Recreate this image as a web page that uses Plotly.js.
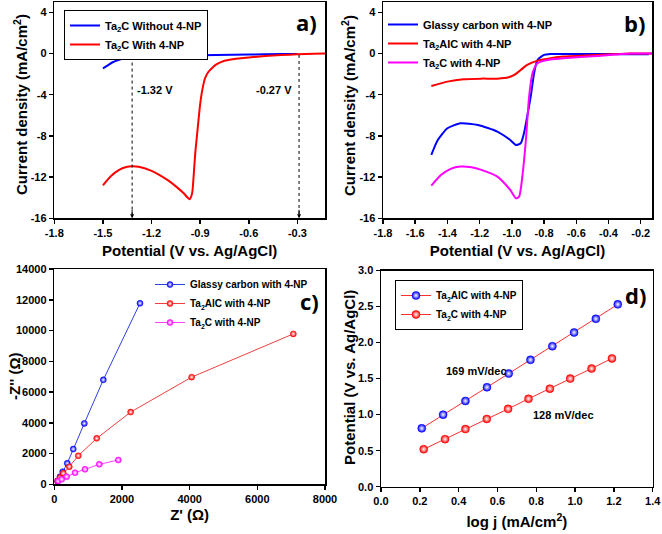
<!DOCTYPE html>
<html><head><meta charset="utf-8">
<script src="https://cdn.plot.ly/plotly-3.0.1.min.js"></script>
<style>html,body{margin:0;padding:0;background:#fff}</style>
</head><body><div id="chart" style="width:662px;height:534px"></div>
<script>
// ---------- Panel a ----------
const aNoNP_x = [-1.5, -1.47, -1.44, -1.4, -1.36, -1.3, -1.2, -1.0, -0.8, -0.6, -0.4, -0.3];
const aNoNP_y = [-1.45, -1.15, -0.85, -0.6, -0.42, -0.33, -0.27, -0.2, -0.14, -0.1, -0.06, -0.05];
const aNP_x = [-1.5, -1.45, -1.4, -1.35, -1.32, -1.28, -1.2, -1.15, -1.1, -1.05, -1.0, -0.98, -0.965, -0.95, -0.94, -0.93, -0.92, -0.91, -0.9, -0.89, -0.88, -0.87, -0.85, -0.82, -0.8, -0.75, -0.7, -0.65, -0.6, -0.5, -0.4, -0.3, -0.2, -0.12];
const aNP_y = [-12.8, -11.9, -11.3, -11.0, -10.95, -11.0, -11.4, -11.8, -12.3, -12.9, -13.6, -13.95, -14.15, -13.6, -11.8, -9.6, -8.0, -6.4, -4.9, -3.8, -3.0, -2.4, -1.8, -1.3, -1.05, -0.7, -0.55, -0.45, -0.38, -0.25, -0.15, -0.08, -0.02, 0];
const aMarkX = [-1.32, -0.29];
const aMarkTop = [-0.3, -0.14];
const aMarkText = ['-1.32 V', '-0.27 V'];

// ---------- Panel b ----------
const bGC_x = [-1.5, -1.46, -1.4, -1.32, -1.21, -1.09, -1.01, -0.975, -0.945, -0.925, -0.905, -0.883, -0.862, -0.841, -0.8, -0.76, -0.6, -0.4, -0.2, -0.15];
const bGC_y = [-9.85, -8.4, -7.26, -6.78, -6.94, -7.58, -8.4, -8.88, -8.72, -7.75, -6.13, -4.19, -1.92, -0.63, -0.14, -0.05, -0.05, -0.05, -0.08, -0.08];
const bAl_x = [-1.5, -1.4, -1.3, -1.19, -1.09, -1.02, -0.985, -0.945, -0.905, -0.84, -0.76, -0.68, -0.47, -0.26, -0.13];
const bAl_y = [-3.15, -2.73, -2.5, -2.44, -2.44, -2.31, -2.08, -1.6, -1.11, -0.69, -0.47, -0.3, -0.14, 0, 0];
const bTa_x = [-1.5, -1.44, -1.38, -1.32, -1.25, -1.19, -1.09, -1.01, -0.975, -0.955, -0.935, -0.913, -0.893, -0.872, -0.841, -0.78, -0.68, -0.47, -0.26, -0.13];
const bTa_y = [-12.83, -11.8, -11.2, -10.98, -11.05, -11.3, -11.95, -13.25, -14.06, -13.9, -11.95, -8.4, -4.19, -1.92, -0.95, -0.63, -0.47, -0.24, 0, 0];

// ---------- Panel c ----------
const cGC_x = [89, 168, 248, 384, 561, 887, 1448, 2532];
const cGC_y = [214, 494, 818, 1364, 2292, 3961, 6794, 11771];
const cAl_x = [89, 168, 266, 443, 709, 1253, 2256, 4059, 7064];
const cAl_y = [214, 429, 714, 1143, 1857, 2987, 4696, 6968, 9781];
const cTa_x = [118, 219, 366, 612, 907, 1330, 1891];
const cTa_y = [214, 325, 494, 753, 974, 1299, 1578];

// ---------- Panel d ----------
const dAl_x = [0.21, 0.32, 0.435, 0.546, 0.658, 0.77, 0.883, 0.995, 1.107, 1.22];
const dAl_y = [0.81, 1.0, 1.19, 1.38, 1.57, 1.76, 1.95, 2.14, 2.33, 2.53];
const dTa_x = [0.22, 0.33, 0.435, 0.545, 0.655, 0.76, 0.87, 0.975, 1.085, 1.19];
const dTa_y = [0.52, 0.66, 0.80, 0.94, 1.08, 1.22, 1.36, 1.50, 1.64, 1.78];

// ---------- tick labels ----------
const abYTicks = [4, 0, -4, -8, -12, -16];
const abYText = ['4', '0', '-4', '-8', '-12', '-16'];
const aXTicks = [-1.8, -1.5, -1.2, -0.9, -0.6, -0.3];
const aXText = ['-1.8', '-1.5', '-1.2', '-0.9', '-0.6', '-0.3'];
const bXTicks = [-1.8, -1.6, -1.4, -1.2, -1.0, -0.8, -0.6, -0.4, -0.2];
const bXText = ['-1.8', '-1.6', '-1.4', '-1.2', '-1.0', '-0.8', '-0.6', '-0.4', '-0.2'];

// ---------- y-axis titles ----------
const yTitles = ['Current density (mA/cm<sup>2</sup>)', 'Current density (mA/cm<sup>2</sup>)', "-Z'' (Ω)", 'Potential (V vs. Ag/AgCl)'];

const W = 662, H = 534;
const FONT = 'Liberation Sans, Arial, sans-serif';
const BLUE = '#0000ff', RED = '#ff0000', MAG = '#ff00ff';

function dx(a, b) { return [a / W, b / W]; }
function dy(top, bottom) { return [1 - bottom / H, 1 - top / H]; }

function axis(extra) {
  return Object.assign({
    showline: true, linecolor: '#000', linewidth: 1.5, mirror: true,
    ticks: 'outside', ticklen: 4, tickwidth: 1.5, tickcolor: '#000',
    showgrid: false, zeroline: false, fixedrange: true,
    tickfont: { family: FONT, size: 11, color: '#000', weight: 'bold' },
    automargin: false
  }, extra);
}
const TFONT = { family: FONT, size: 15, color: '#000', weight: 'bold' };
function ttl(text, standoff) { return { text: text, standoff: standoff, font: TFONT }; }

const lineTr = (x, y, color, name, xa, ya, lg, w) => ({
  x: x, y: y, type: 'scatter', mode: 'lines', name: name,
  line: { color: color, width: w || 2, shape: 'spline', smoothing: 0.6 },
  xaxis: xa, yaxis: ya, legend: lg
});
const ballTr = (x, y, color, lineColor, name, xa, ya, lg, size) => ({
  x: x, y: y, type: 'scatter', mode: 'lines+markers', name: name,
  line: { color: lineColor, width: 1 },
  marker: { size: size, color: color, gradient: { type: 'radial', color: '#ffffff' }, line: { color: color, width: 0.5 } },
  xaxis: xa, yaxis: ya, legend: lg
});

const data = [
  lineTr(aNoNP_x, aNoNP_y, BLUE, 'Ta<sub>2</sub>C Without 4-NP', 'x', 'y', 'legend'),
  lineTr(aNP_x, aNP_y, RED, 'Ta<sub>2</sub>C With 4-NP', 'x', 'y', 'legend'),
  lineTr(bGC_x, bGC_y, BLUE, 'Glassy carbon with 4-NP', 'x2', 'y2', 'legend2'),
  lineTr(bAl_x, bAl_y, RED, 'Ta<sub>2</sub>AlC with 4-NP', 'x2', 'y2', 'legend2'),
  lineTr(bTa_x, bTa_y, MAG, 'Ta<sub>2</sub>C with 4-NP', 'x2', 'y2', 'legend2'),
  ballTr(cGC_x, cGC_y, BLUE, '#3040e0', 'Glassy carbon with 4-NP', 'x3', 'y3', 'legend3', 6),
  ballTr(cAl_x, cAl_y, RED, '#f04040', 'Ta<sub>2</sub>AlC with 4-NP', 'x3', 'y3', 'legend3', 6),
  ballTr(cTa_x, cTa_y, MAG, '#ff40ff', 'Ta<sub>2</sub>C with 4-NP', 'x3', 'y3', 'legend3', 6),
  ballTr(dAl_x, dAl_y, BLUE, '#ff3030', 'Ta<sub>2</sub>AlC with 4-NP', 'x4', 'y4', 'legend4', 8),
  ballTr(dTa_x, dTa_y, RED, '#ff3030', 'Ta<sub>2</sub>C with 4-NP', 'x4', 'y4', 'legend4', 8)
];

const shapes = [], annotations = [];
aMarkX.forEach((xv, i) => {
  shapes.push({ type: 'line', xref: 'x', yref: 'y', x0: xv, x1: xv, y0: aMarkTop[i], y1: -15.6,
    line: { color: '#000', width: 1, dash: 'dot' } });
  annotations.push({ xref: 'x', yref: 'y', x: xv, y: -16, text: '', showarrow: true,
    ax: 0, ay: -10, arrowhead: 2, arrowsize: 0.8, arrowwidth: 1, arrowcolor: '#000' });
});
annotations.push({ xref: 'x', yref: 'y', x: aMarkX[0] + 0.02, y: -3.5, text: aMarkText[0], showarrow: false,
  xanchor: 'left', font: { family: FONT, size: 11, color: '#000', weight: 'bold' } });
annotations.push({ xref: 'x', yref: 'y', x: aMarkX[1] - 0.03, y: -3.5, text: aMarkText[1], showarrow: false,
  xanchor: 'right', font: { family: FONT, size: 11, color: '#000', weight: 'bold' } });
annotations.push({ xref: 'x4', yref: 'y4', x: 0.49, y: 1.6, text: '169 mV/dec', showarrow: false,
  font: { family: FONT, size: 11, color: '#000', weight: 'bold' } });
annotations.push({ xref: 'x4', yref: 'y4', x: 0.94, y: 1.0, text: '128 mV/dec', showarrow: false,
  font: { family: FONT, size: 11, color: '#000', weight: 'bold' } });
[['a)', 306, 22], ['b)', 634, 23], ['c)', 309, 301], ['d)', 635, 295]].forEach(p => {
  annotations.push({ xref: 'paper', yref: 'paper', x: p[1] / W, y: 1 - p[2] / H, text: p[0], showarrow: false,
    xanchor: 'center', yanchor: 'middle', font: { family: 'Open Sans, ' + FONT, size: 22, color: '#000', weight: 'bold' } });
});
// y-axis titles, rotated, centred on each panel
[[20, 105], [348, 105], [14, 377], [349, 378]].forEach((p, i) => {
  annotations.push({ xref: 'paper', yref: 'paper', x: p[0] / W, y: 1 - p[1] / H, text: yTitles[i], showarrow: false,
    textangle: -90, xanchor: 'center', yanchor: 'middle', font: TFONT });
});

const legFont = { family: FONT, size: 11, color: '#000', weight: 'bold' };
const layout = {
  width: W, height: H, margin: { l: 0, r: 0, t: 0, b: 0 },
  paper_bgcolor: '#fff', plot_bgcolor: '#fff', showlegend: true,
  xaxis: axis({ domain: dx(54.3, 325), range: [-1.8, -0.13], tickvals: aXTicks, ticktext: aXText, anchor: 'y',
    title: ttl('Potential (V vs. Ag/AgCl)', 7) }),
  yaxis: axis({ domain: dy(2, 218.3), range: [-16, 5], tickvals: abYTicks, ticktext: abYText, anchor: 'x' }),
  xaxis2: axis({ domain: dx(383, 652), range: [-1.8, -0.13], tickvals: bXTicks, ticktext: bXText, anchor: 'y2',
    title: ttl('Potential (V vs. Ag/AgCl)', 7) }),
  yaxis2: axis({ domain: dy(2, 218.3), range: [-16, 5], tickvals: abYTicks, ticktext: abYText, anchor: 'x2' }),
  xaxis3: axis({ domain: dx(54.3, 325), range: [0, 8000], dtick: 2000, tickformat: 'd', anchor: 'y3',
    title: ttl("Z' (Ω)", 5) }),
  yaxis3: axis({ domain: dy(269, 484.3), range: [0, 14000], dtick: 2000, tickformat: 'd', anchor: 'x3' }),
  xaxis4: axis({ domain: dx(381, 652.7), range: [0, 1.4], dtick: 0.2, tickformat: '.1f', anchor: 'y4',
    title: ttl('log j (mA/cm<sup>2</sup>)', 10) }),
  yaxis4: axis({ domain: dy(270.5, 486.7), range: [0, 3], dtick: 0.5, tickformat: '.1f', anchor: 'x4' }),
  legend: { x: 64 / W, y: 1 - 10 / H, xanchor: 'left', yanchor: 'top', bgcolor: '#fff',
    bordercolor: '#000', borderwidth: 1, font: legFont, tracegroupgap: 0 },
  legend2: { x: 383 / W, y: 1 - 10 / H, xanchor: 'left', yanchor: 'top', bgcolor: 'rgba(0,0,0,0)',
    borderwidth: 0, font: legFont },
  legend3: { x: 150 / W, y: 1 - 270 / H, xanchor: 'left', yanchor: 'top', bgcolor: 'rgba(0,0,0,0)',
    borderwidth: 0, font: { family: FONT, size: 10, color: '#000', weight: 'bold' } },
  legend4: { x: 395 / W, y: 1 - 280 / H, xanchor: 'left', yanchor: 'top', bgcolor: '#fff',
    bordercolor: '#000', borderwidth: 1, font: { family: FONT, size: 10, color: '#000', weight: 'bold' } },
  shapes: shapes, annotations: annotations
};

Plotly.newPlot('chart', data, layout, { displayModeBar: false, staticPlot: true });
</script></body></html>
